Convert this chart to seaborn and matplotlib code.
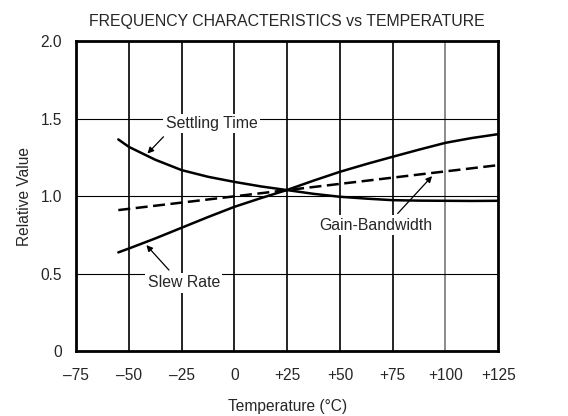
import pandas as pd
import matplotlib
matplotlib.use("Agg")
import matplotlib.pyplot as plt
import seaborn as sns

# values
temps = [-55, -50, -37.5, -25, -12.5, 0, 12.5, 25, 37.5, 50, 62.5, 75, 87.5, 100, 112.5, 125]
settling_time = [1.366, 1.318, 1.235, 1.168, 1.125, 1.092, 1.063, 1.039, 1.015, 0.996, 0.984, 0.974, 0.971, 0.970, 0.969, 0.970]
slew_rate = [0.637, 0.662, 0.727, 0.796, 0.865, 0.931, 0.987, 1.04, 1.10, 1.157, 1.207, 1.254, 1.30, 1.344, 1.375, 1.40]
gbw_temps = [-55, 125]
gain_bandwidth = [0.91, 1.20]

x_ticks = [-75, -50, -25, 0, 25, 50, 75, 100, 125]
x_labels = ["\u201375", "\u201350", "\u201325", "0", "+25", "+50", "+75", "+100", "+125"]
y_ticks = [0, 0.5, 1.0, 1.5, 2.0]
y_labels = ["0", "0.5", "1.0", "1.5", "2.0"]

sns.set_style("white")
plt.rcParams['font.family'] = ['Liberation Sans', 'DejaVu Sans']

df = pd.DataFrame({'Temperature': temps, 'Settling Time': settling_time, 'Slew Rate': slew_rate})
df_gbw = pd.DataFrame({'Temperature': gbw_temps, 'Gain-Bandwidth': gain_bandwidth})

fig = plt.figure(figsize=(5.68, 4.16), dpi=100)
ax = fig.add_axes([0.134, 0.156, 0.743, 0.745])

# grid
for t in x_ticks[1:-1]:
    ax.axvline(t, color='#777777' if t == 100 else 'black', lw=1.2, zorder=1)
for v in y_ticks[1:-1]:
    ax.axhline(v, color='black', lw=0.8, zorder=1)

sns.lineplot(data=df, x='Temperature', y='Settling Time', color='black', lw=1.8, ax=ax, zorder=3)
sns.lineplot(data=df, x='Temperature', y='Slew Rate', color='black', lw=1.8, ax=ax, zorder=3)
sns.lineplot(data=df_gbw, x='Temperature', y='Gain-Bandwidth', color='black', lw=1.8, ax=ax, zorder=3,
             linestyle=(0, (4.8, 2.2)))

ax.set_xlim(-75, 125)
ax.set_ylim(0, 2.0)
ax.set_xticks(x_ticks)
ax.set_xticklabels(x_labels)
ax.set_yticks(y_ticks)
ax.set_yticklabels(y_labels)
ax.tick_params(axis='x', length=0, labelsize=11.2, pad=12)
ax.tick_params(axis='y', length=0, labelsize=11.2, pad=10)
for s in ax.spines.values():
    s.set_linewidth(2)
    s.set_color('black')

ax.set_title('FREQUENCY CHARACTERISTICS vs TEMPERATURE', fontsize=11.4, pad=11)
ax.set_xlabel('Temperature (\u00b0C)', fontsize=11.2, labelpad=12)
ax.set_ylabel('Relative Value', fontsize=11.2, labelpad=6)

box = dict(boxstyle='square,pad=0.15', fc='white', ec='none')
arrow = dict(arrowstyle='-|>', color='black', lw=0.9, mutation_scale=9, shrinkA=0, shrinkB=0)
ax.text(-10.8, 1.469, 'Settling Time', ha='center', va='center', fontsize=11.4, bbox=box, zorder=4)
ax.annotate('', xy=(-41.2, 1.275), xytext=(-33.6, 1.383), arrowprops=arrow, zorder=4)
ax.text(-24.0, 0.441, 'Slew Rate', ha='center', va='center', fontsize=11.4, bbox=box, zorder=4)
ax.annotate('', xy=(-41.7, 0.684), xytext=(-31.0, 0.523), arrowprops=arrow, zorder=4)
ax.text(67.0, 0.813, 'Gain-Bandwidth', ha='center', va='center', fontsize=11.4, bbox=box, zorder=4)
ax.annotate('', xy=(93.7, 1.129), xytext=(77.4, 0.888), arrowprops=arrow, zorder=4)

fig.savefig('out.png', dpi=100)
